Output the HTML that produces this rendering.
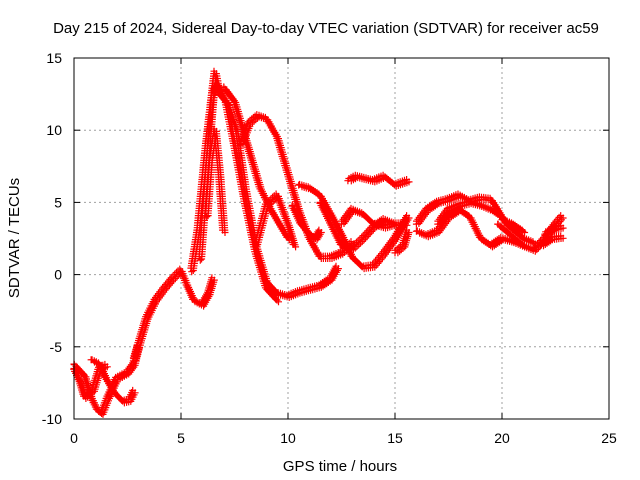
<!DOCTYPE html>
<html><head><meta charset="utf-8"><style>
body{margin:0;background:#fff;width:640px;height:480px;overflow:hidden}
svg{display:block;font-family:"Liberation Sans",sans-serif}
</style></head><body>
<svg id="chart" width="640" height="480">
<text x="326" y="33" text-anchor="middle" font-size="15">Day 215 of 2024, Sidereal Day-to-day VTEC variation (SDTVAR) for receiver ac59</text>
<text x="340" y="471" text-anchor="middle" font-size="15">GPS time / hours</text>
<text transform="translate(19,238) rotate(-90)" text-anchor="middle" font-size="15">SDTVAR / TECUs</text>
<g id="grid"></g><g id="ticks"></g><g id="marks"></g>
<rect x="74" y="58" width="535" height="361" fill="none" stroke="#000" stroke-width="1"/>
</svg>
<script>
const xTicks=[0,5,10,15,20,25];
const yTicks=[-10,-5,0,5,10,15];
const track1=[[0,-6.2],[0.5,-7],[0.8,-8.5],[1.1,-9.4],[1.3,-9.6],[1.6,-8.5],[2,-7.2],[2.5,-6.8],[2.8,-6.2],[3,-5]];
const track2=[[0.8,-5.9],[1.2,-6.2],[1.5,-7.2],[1.9,-8.2],[2.3,-8.8],[2.6,-8.7],[2.8,-8.1]];
const track3=[[0,-6.5],[0.3,-7.5],[0.5,-8.5],[0.9,-8],[1.2,-6.5],[1.5,-6.3]];
const track4=[[2.8,-6],[3.1,-4.5],[3.4,-3],[3.8,-1.8],[4.2,-1],[4.6,-0.3],[5,0.3],[5.3,-0.8],[5.6,-1.8],[6,-2.1],[6.3,-1.3],[6.5,-0.3]];
const track5=[[5.5,0.2],[5.8,3],[6,6],[6.2,9],[6.4,11.5],[6.6,14],[6.8,12.5],[7.2,11.8],[7.6,10],[8,6],[8.5,2],[9,-0.5],[9.5,-1.3],[10,-1.5],[10.5,-1.2],[11,-1],[11.5,-0.8],[12,-0.3],[12.3,0.5]];
const track6=[[5.9,1],[6.1,5],[6.3,9],[6.5,12.5],[6.7,13.2],[7.1,12],[7.5,9],[8,5],[8.5,1.5],[9,-1],[9.5,-1.8]];
const track7=[[6.2,4],[6.4,8],[6.6,10],[6.8,7],[7,3]];
const track8=[[7,13],[7.5,12],[8,9.5],[8.3,8],[8.7,6],[9.2,4.5],[9.6,3.5],[10,2.5]];
const track9=[[7.8,9],[8.2,10.5],[8.6,11],[9,10.8],[9.5,9.5],[10,7],[10.5,4.5],[11,2.5],[11.5,1.2],[12,1.2],[12.5,1.5],[13,2.2]];
const track10=[[8.5,2],[9,4.8],[9.5,5.5],[10,3.5],[10.3,2]];
const track11=[[10.5,6.2],[11,6],[11.5,5.5],[12,4.2],[12.5,2.8],[13,1.2],[13.5,0.5],[14,0.6],[14.5,1.5],[15,2.5],[15.6,4]];
const track12=[[10.2,4.8],[10.6,3.5],[11,2.8],[11.3,2.5],[11.5,3]];
const track13=[[11.5,5],[12,3.5],[12.5,2],[13,1.8],[13.5,2.5],[14,3.3],[14.5,3.8],[15,3.5]];
const track14=[[12.5,3.5],[13,4.5],[13.5,4.2],[14,3.5],[14.5,3.3],[15,3.5],[15.5,3.5]];
const track15=[[12.8,6.5],[13.2,6.8],[14,6.5],[14.5,6.8],[15,6.2],[15.6,6.5]];
const track16=[[15,1.5],[15.4,2],[15.6,3]];
const track17=[[16,3.5],[16.5,4.5],[17,5],[17.5,5.2],[18,5.5],[18.5,5.1],[19,5.3],[19.5,5.2],[19.8,4.5],[20.2,3.5],[20.6,3],[21,2.5],[21.5,2.2]];
const track18=[[16,3],[16.5,2.7],[17,3],[17.5,4],[18,4.5],[18.5,4],[19,2.5],[19.5,2],[20,2.5],[20.5,2.3],[21,2]];
const track19=[[17,3.5],[17.5,4.5],[18,4.8],[18.5,5],[19,4.8],[19.5,4.5],[20,4]];
const track20=[[19.8,3.5],[20.2,3],[20.6,2.5],[21,2],[21.5,1.7],[22,2.5],[22.5,3.5],[22.8,4]];
const track21=[[20,3.8],[20.5,3.5],[21,3]];
const track22=[[21.8,2],[22.3,2.5],[22.8,2.6]];
const track23=[[22,2.8],[22.5,3.2],[22.8,3.3]];
const tracks=[track1,track2,track3,track4,track5,track6,track7,track8,track9,track10,track11,track12,track13,track14,track15,track16,track17,track18,track19,track20,track21,track22,track23];

const X0=74,X1=609,Y0=419,Y1=58;
const sx=v=>X0+(v-0)/25*(X1-X0);
const sy=v=>Y0-(v+10)/25*(Y0-Y1);
const NS="http://www.w3.org/2000/svg";
const grid=document.getElementById('grid'),ticks=document.getElementById('ticks'),marks=document.getElementById('marks');
function mk(tag,attrs,parent){const e=document.createElementNS(NS,tag);for(const k in attrs)e.setAttribute(k,attrs[k]);parent.appendChild(e);return e;}
xTicks.forEach(t=>{const x=sx(t);
 if(t>0&&t<25){const g=mk('line',{x1:x,x2:x,y1:Y0,y2:Y1,stroke:'#a0a0a0','stroke-dasharray':'2,3'},grid);
 
 }
 mk('line',{x1:x,x2:x,y1:Y0,y2:Y0-6,stroke:'#000'},ticks);
 mk('line',{x1:x,x2:x,y1:Y1,y2:Y1+6,stroke:'#000'},ticks);
 const tx=mk('text',{x:x,y:443,'text-anchor':'middle','font-size':'14'},ticks);tx.textContent=t;
 
 
});
yTicks.forEach(t=>{const y=sy(t);
 if(t>-10&&t<15){const g=mk('line',{x1:X0,x2:X1,y1:y,y2:y,stroke:'#a0a0a0','stroke-dasharray':'2,3'},grid);
 
 }
 mk('line',{x1:X0,x2:X0+6,y1:y,y2:y,stroke:'#000'},ticks);
 mk('line',{x1:X1,x2:X1-6,y1:y,y2:y,stroke:'#000'},ticks);
 const tx=mk('text',{x:62,y:y+5,'text-anchor':'end','font-size':'14'},ticks);tx.textContent=t;
 
 
});
const plus=(x,y)=>`M${(x-3.5).toFixed(1)} ${y.toFixed(1)}h7M${x.toFixed(1)} ${(y-3.5).toFixed(1)}v7`;
tracks.forEach((tr,i)=>{let d='';
 for(let j=0;j<tr.length;j++){const px=sx(tr[j][0]),py=sy(tr[j][1]);
  if(j>0){const qx=sx(tr[j-1][0]),qy=sy(tr[j-1][1]);const L=Math.hypot(px-qx,py-qy);const n=Math.max(1,Math.ceil(L/2.5));
   for(let k=1;k<=n;k++){const x=qx+(px-qx)*k/n,y=qy+(py-qy)*k/n;d+=plus(x-1.2,y-1.2)+plus(x+1.2,y+1.2);}}
  else d+=plus(px,py);}
 const p=mk('path',{d:d,stroke:'#ff0000','stroke-width':'1.2',fill:'none'},marks);
 
 
});
</script>
</body></html>
